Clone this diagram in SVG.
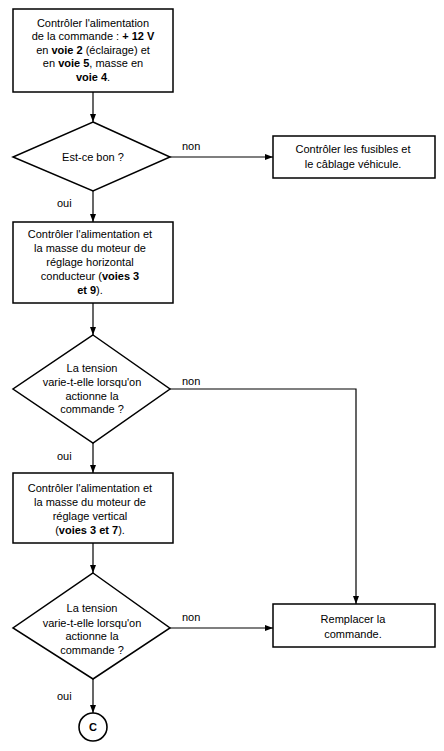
<svg xmlns="http://www.w3.org/2000/svg" width="444" height="751" viewBox="0 0 444 751">
<defs>
<marker id="ah" viewBox="0 0 8 6" refX="8" refY="3" markerWidth="8" markerHeight="6" markerUnits="userSpaceOnUse" orient="auto">
<path d="M0,0 L8,3 L0,6 Z" fill="#000"/>
</marker>
<style>
.box{fill:#fff;stroke:#000;stroke-width:1.5}
.t{font-family:"Liberation Sans",Arial,sans-serif;font-size:11px;fill:#000;text-anchor:middle}
.l{font-family:"Liberation Sans",Arial,sans-serif;font-size:11px;fill:#000}
.b{font-weight:bold}
.c{fill:none;stroke:#000;stroke-width:1.2}
.ca{fill:none;stroke:#000;stroke-width:1.2;marker-end:url(#ah)}
</style>
</defs>
<rect width="444" height="751" fill="#fff"/>
<g id="connectors">
<line class="ca" x1="93" y1="92" x2="93" y2="122"/>
<line class="ca" x1="170" y1="157" x2="273" y2="157"/>
<line class="ca" x1="93" y1="191" x2="93" y2="222"/>
<line class="ca" x1="93" y1="303" x2="93" y2="335"/>
<polyline class="ca" points="170,389 356,389 356,604"/>
<line class="ca" x1="93" y1="443" x2="93" y2="473"/>
<line class="ca" x1="93" y1="543" x2="93" y2="573"/>
<line class="ca" x1="170" y1="628" x2="273" y2="628"/>
<line class="ca" x1="93" y1="679" x2="93" y2="713"/>
<text class="l" x="182" y="150">non</text>
<text class="l" x="57" y="207">oui</text>
<text class="l" x="182" y="385">non</text>
<text class="l" x="57" y="460">oui</text>
<text class="l" x="182" y="621">non</text>
<text class="l" x="57" y="700">oui</text>
</g>
<g id="n1">
<rect class="box" x="13" y="9" width="160" height="83"/>
<text class="t" x="93" y="27">Contrôler l'alimentation</text>
<text class="t" x="93" y="40">de la commande : <tspan class="b">+ 12 V</tspan></text>
<text class="t" x="93" y="54">en <tspan class="b">voie 2</tspan> (éclairage) et</text>
<text class="t" x="93" y="67">en <tspan class="b">voie 5</tspan>, masse en</text>
<text class="t" x="93" y="81"><tspan class="b">voie 4</tspan>.</text>
</g>
<g id="d1">
<polygon class="box" points="93,122 170,157 93,191 13,157"/>
<text class="t" x="93" y="161">Est-ce bon ?</text>
</g>
<g id="n2">
<rect class="box" x="273" y="136" width="162" height="42"/>
<text class="t" x="353" y="153">Contrôler les fusibles et</text>
<text class="t" x="353" y="168">le câblage véhicule.</text>
</g>
<g id="n3">
<rect class="box" x="13" y="222" width="160" height="81"/>
<text class="t" x="90" y="238">Contrôler l'alimentation et</text>
<text class="t" x="90" y="252">la masse du moteur de</text>
<text class="t" x="90" y="266">réglage horizontal</text>
<text class="t" x="90" y="280">conducteur (<tspan class="b">voies 3</tspan></text>
<text class="t" x="90" y="294"><tspan class="b">et 9</tspan>).</text>
</g>
<g id="d2">
<polygon class="box" points="93,335 170,389 93,443 13,389"/>
<text class="t" x="92" y="372">La tension</text>
<text class="t" x="92" y="386">varie-t-elle lorsqu'on</text>
<text class="t" x="92" y="400">actionne la</text>
<text class="t" x="92" y="413">commande ?</text>
</g>
<g id="n5">
<rect class="box" x="13" y="473" width="160" height="70"/>
<text class="t" x="90" y="492">Contrôler l'alimentation et</text>
<text class="t" x="90" y="506">la masse du moteur de</text>
<text class="t" x="90" y="520">réglage vertical</text>
<text class="t" x="90" y="534">(<tspan class="b">voies 3 et 7</tspan>).</text>
</g>
<g id="d3">
<polygon class="box" points="93,573 170,628 93,679 13,628"/>
<text class="t" x="92" y="612">La tension</text>
<text class="t" x="92" y="627">varie-t-elle lorsqu'on</text>
<text class="t" x="92" y="640">actionne la</text>
<text class="t" x="92" y="654">commande ?</text>
</g>
<g id="n4">
<rect class="box" x="273" y="604" width="162" height="43"/>
<text class="t" x="353" y="623">Remplacer la</text>
<text class="t" x="353" y="638">commande.</text>
</g>
<g id="c">
<circle cx="93" cy="727" r="14" fill="#fff" stroke="#000" stroke-width="1.6"/>
<text class="t b" x="93" y="731" font-size="12">C</text>
</g>
</svg>
